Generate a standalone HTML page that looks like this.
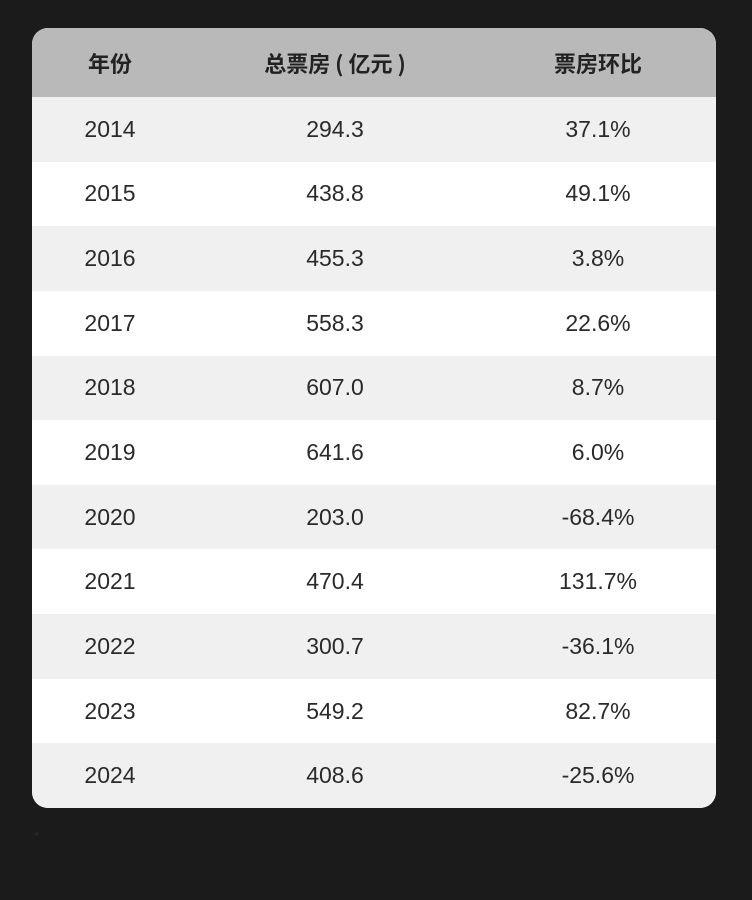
<!DOCTYPE html>
<html><head><meta charset="utf-8"><style>
body{margin:0;width:752px;height:900px;background:#1b1b1b;overflow:hidden;font-family:"Liberation Sans","Noto Sans CJK SC",sans-serif;}
.card{position:absolute;left:32px;top:28px;width:684px;height:780px;border-radius:16px;overflow:hidden;background:#fff;}
.row{position:absolute;left:0;width:684px;height:64.7px;}
.cell{position:absolute;top:0;height:100%;display:flex;align-items:center;justify-content:center;font-size:23px;color:#2a2a2a;}
.c1{left:18px;width:120px}.c2{left:213px;width:180px}.c3{left:476px;width:180px}
.hd{background:#b9b9b9;height:69px;top:0}
.hd .cell{font-weight:bold;font-size:22px;color:#222;font-family:"Noto Sans CJK SC",sans-serif}
.odd{background:#f0f0f1}.even{background:#fff}
</style></head><body>
<div class="card">
<div class="row hd">
<div class="cell c1">年份</div>
<div class="cell c2">总票房 ( 亿元 )</div>
<div class="cell c3">票房环比</div>
</div>
<div id="rows"></div>
</div>
<div style="position:absolute;left:34px;top:828px;color:#2a2a2a;font-size:14px">* </div>
<script>
const years=["2014","2015","2016","2017","2018","2019","2020","2021","2022","2023","2024"];
const boxOffice=["294.3","438.8","455.3","558.3","607.0","641.6","203.0","470.4","300.7","549.2","408.6"];
const growth=["37.1%","49.1%","3.8%","22.6%","8.7%","6.0%","-68.4%","131.7%","-36.1%","82.7%","-25.6%"];
const card=document.querySelector('.card');
years.forEach((y,i)=>{
 const r=document.createElement('div');
 r.className='row '+(i%2?'even':'odd');
 r.style.top=(69+i*64.64)+'px';
 
 
 [[y,'c1','year-cell'],[boxOffice[i],'c2','box-office-cell'],[growth[i],'c3','growth-cell']].forEach(([t,c,n])=>{
  const d=document.createElement('div');d.className='cell '+c;d.textContent=t;
  
  
  r.appendChild(d);
 });
 card.appendChild(r);
});
</script>
</body></html>
